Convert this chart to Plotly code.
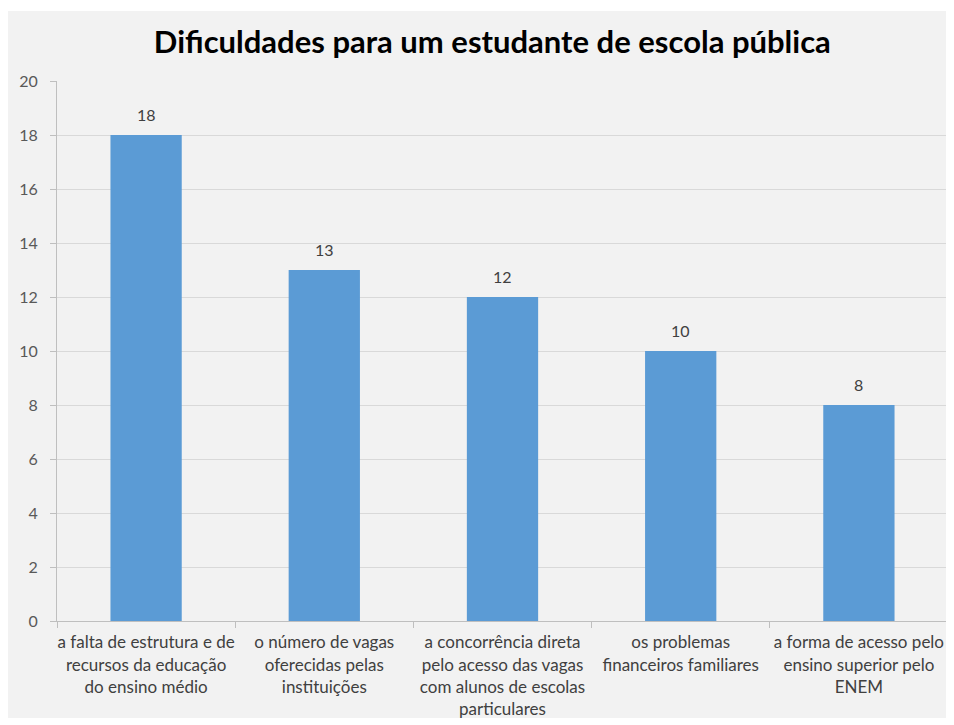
import plotly.graph_objects as go

categories = [
    "a falta de estrutura e de<br>recursos da educação<br>do ensino médio",
    "o número de vagas<br>oferecidas pelas<br>instituições",
    "a concorrência direta<br>pelo acesso das vagas<br>com alunos de escolas<br>particulares",
    "os problemas<br>financeiros familiares",
    "a forma de acesso pelo<br>ensino superior pelo<br>ENEM",
]
values = [18, 13, 12, 10, 8]
y_ticks = [0, 2, 4, 6, 8, 10, 12, 14, 16, 18, 20]
title_text = "Dificuldades para um estudante de escola pública"

FONT = "Lato, Carlito, sans-serif"
W, H = 946, 717
L, R, T, B = 49, 6, 73, 104
pw = W - L - R
ph = H - T - B

def px_to_paper_x(px):
    return (px - L) / pw

def px_to_paper_y(py):
    return (H - B - py) / ph

fig = go.Figure()
fig.add_trace(go.Bar(
    x=categories,
    y=values,
    marker=dict(color="#5B9BD5", line=dict(width=0)),
    cliponaxis=False,
))

annotations = [
    dict(x=c, y=v, xref="x", yref="y", text=str(v), showarrow=False,
         yanchor="bottom", yshift=9,
         font=dict(family=FONT, size=16, color="#404040"))
    for c, v in zip(categories, values)
]

fig.update_layout(
    width=W, height=H,
    margin=dict(l=L, r=R, t=T, b=B),
    paper_bgcolor="white",
    plot_bgcolor="rgba(0,0,0,0)",
    bargap=0.6,
    showlegend=False,
    font=dict(family=FONT, color="#404040"),
    annotations=annotations,
    title=dict(
        text="<b>" + title_text + "</b>",
        x=0.512, xanchor="center",
        y=1 - 34 / H, yanchor="middle",
        font=dict(family=FONT, size=31, color="#000000"),
    ),
    shapes=[dict(
        type="rect", layer="below",
        xref="paper", yref="paper",
        x0=px_to_paper_x(0), x1=px_to_paper_x(W),
        y0=px_to_paper_y(710), y1=px_to_paper_y(3),
        fillcolor="#F2F2F2", line=dict(width=0),
    )],
    xaxis=dict(
        type="category",
        tickson="boundaries",
        ticks="outside", ticklen=6, tickcolor="#BFBFBF",
        showline=True, linecolor="#BFBFBF", linewidth=1,
        showgrid=False,
        tickfont=dict(family=FONT, size=17, color="#404040"),
        tickangle=0,
        ticklabelstandoff=6,
    ),
    yaxis=dict(
        range=[0, 20],
        tickvals=y_ticks,
        ticks="outside", ticklen=6, tickcolor="#BFBFBF",
        showline=True, linecolor="#BFBFBF", linewidth=1,
        showgrid=True, gridcolor="#D9D9D9", gridwidth=1,
        zeroline=False,
        tickfont=dict(family=FONT, size=16, color="#595959"),
        ticklabelstandoff=9,
    ),
)

fig.write_html("out.html")
